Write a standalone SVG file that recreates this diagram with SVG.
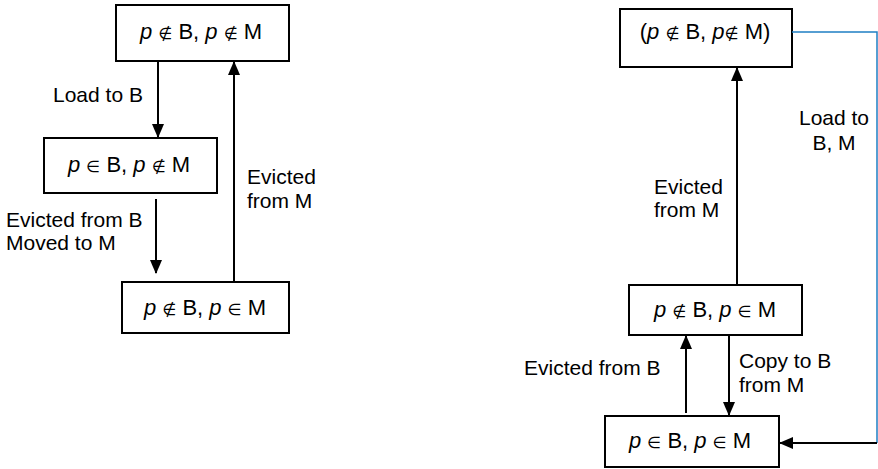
<svg xmlns="http://www.w3.org/2000/svg" width="878" height="469" viewBox="0 0 878 469">
  <style>
    .box { fill: #fff; stroke: #000; stroke-width: 2; }
    .lbl { font-family: "Liberation Sans", Arial, sans-serif; font-size: 21px; fill: #000; }
    .st { font-family: "Liberation Sans", Arial, sans-serif; font-size: 22px; fill: #000; text-anchor: middle; }
    .v { font-style: italic; }
    .sym { font-family: "DejaVu Sans", sans-serif; font-size: 16px; }
    .edge { fill: none; stroke: #000; stroke-width: 2; }
    .blue { fill: none; stroke: #1f7fc4; stroke-width: 1.5; }
  </style>
  <defs>
    <marker id="arrow" viewBox="0 0 14 12" refX="13" refY="6" markerWidth="14" markerHeight="12" markerUnits="userSpaceOnUse" orient="auto">
      <path d="M0,0 L14,6 L0,12 Z" fill="#000"/>
    </marker>
  </defs>

  <!-- left state machine -->
  <g id="L1">
    <rect class="box" x="116" y="5" width="173" height="56"/>
    <text class="st" x="201" y="39"><tspan class="v">p</tspan> <tspan class="sym">∉</tspan> B, <tspan class="v">p</tspan> <tspan class="sym">∉</tspan> M</text>
  </g>
  <g id="L2">
    <rect class="box" x="44" y="138" width="173" height="55"/>
    <text class="st" x="129" y="172"><tspan class="v">p</tspan> <tspan class="sym">∈</tspan> B, <tspan class="v">p</tspan> <tspan class="sym">∉</tspan> M</text>
  </g>
  <g id="L3">
    <rect class="box" x="122" y="282" width="167" height="51"/>
    <text class="st" x="205" y="315"><tspan class="v">p</tspan> <tspan class="sym">∉</tspan> B, <tspan class="v">p</tspan> <tspan class="sym">∈</tspan> M</text>
  </g>

  <!-- right state machine -->
  <g id="R1">
    <rect class="box" x="620" y="9" width="172" height="58"/>
    <text class="st" x="705" y="39">(<tspan class="v">p</tspan> <tspan class="sym">∉</tspan> B, <tspan class="v">p</tspan><tspan class="sym">∉</tspan> M)</text>
  </g>
  <g id="R2">
    <rect class="box" x="629" y="285" width="173" height="50"/>
    <text class="st" x="715" y="317"><tspan class="v">p</tspan> <tspan class="sym">∉</tspan> B, <tspan class="v">p</tspan> <tspan class="sym">∈</tspan> M</text>
  </g>
  <g id="R3">
    <rect class="box" x="605" y="416" width="174" height="51"/>
    <text class="st" x="690" y="448"><tspan class="v">p</tspan> <tspan class="sym">∈</tspan> B, <tspan class="v">p</tspan> <tspan class="sym">∈</tspan> M</text>
  </g>

  <g id="connectors">
    <line class="edge" x1="158" y1="61" x2="158" y2="137" marker-end="url(#arrow)"/>
    <line class="edge" x1="156" y1="199" x2="156" y2="273" marker-end="url(#arrow)"/>
    <line class="edge" x1="234" y1="281" x2="234" y2="62" marker-end="url(#arrow)"/>

    <line class="edge" x1="737" y1="285" x2="737" y2="68" marker-end="url(#arrow)"/>
    <line class="edge" x1="686" y1="413" x2="686" y2="336" marker-end="url(#arrow)"/>
    <line class="edge" x1="729" y1="335" x2="729" y2="415" marker-end="url(#arrow)"/>
    <polyline class="blue" points="792,32 877,32 877,443"/>
    <line class="edge" x1="877" y1="443" x2="780" y2="443" marker-end="url(#arrow)"/>
  </g>

  <g id="labels">
    <text class="lbl" x="53" y="102">Load to B</text>
    <text class="lbl" x="6" y="227">Evicted from B</text>
    <text class="lbl" x="6" y="250">Moved to M</text>
    <text class="lbl" x="247" y="184">Evicted</text>
    <text class="lbl" x="247" y="208">from M</text>

    <text class="lbl" x="834" y="125" text-anchor="middle">Load to</text>
    <text class="lbl" x="834" y="150" text-anchor="middle">B, M</text>
    <text class="lbl" x="654" y="194">Evicted</text>
    <text class="lbl" x="654" y="217">from M</text>
    <text class="lbl" x="524" y="375">Evicted from B</text>
    <text class="lbl" x="739" y="368">Copy to B</text>
    <text class="lbl" x="739" y="392">from M</text>
  </g>
</svg>
